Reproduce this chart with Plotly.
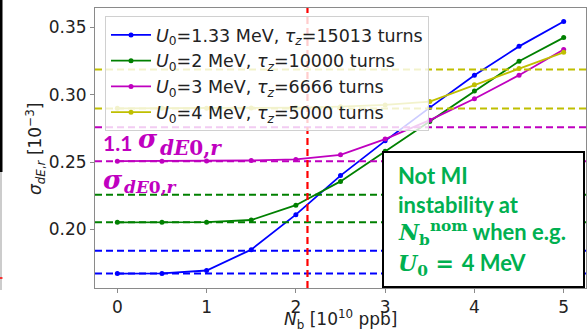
import plotly.graph_objects as go

# ---------------- data ----------------
nb = [0, 0.5, 1, 1.5, 2, 2.5, 3, 3.5, 4, 4.5, 5]
sig_u133 = [0.1672, 0.1673, 0.1695, 0.1850, 0.2110, 0.2400, 0.2658, 0.2905, 0.3145, 0.3360, 0.3545]
sig_u2 = [0.2053, 0.2053, 0.2054, 0.2070, 0.2180, 0.2357, 0.2580, 0.2802, 0.3029, 0.3249, 0.3425]
sig_u3 = [0.2507, 0.2507, 0.2508, 0.2512, 0.2520, 0.2554, 0.2671, 0.2812, 0.2971, 0.3146, 0.3337]
sig_u4 = [0.2900, 0.2900, 0.2900, 0.2902, 0.2905, 0.2912, 0.2925, 0.2950, 0.3074, 0.3195, 0.3316]
series_names = [
    "<i>U</i><sub>0</sub>=1.33 MeV, <i>τ<sub>z</sub></i>=15013 turns",
    "<i>U</i><sub>0</sub>=2 MeV, <i>τ<sub>z</sub></i>=10000 turns",
    "<i>U</i><sub>0</sub>=3 MeV, <i>τ<sub>z</sub></i>=6666 turns",
    "<i>U</i><sub>0</sub>=4 MeV, <i>τ<sub>z</sub></i>=5000 turns",
]
series_colors = ["#0000FF", "#008000", "#BF00BF", "#BFBF00"]
# zero-intensity spread and 1.1x threshold per U0
sig0 = [0.1673, 0.2053, 0.2507, 0.2898]
sig0_x11 = [0.1841, 0.2258, 0.2760, 0.3188]
nb_nominal = 2.13
x_ticks = [0, 1, 2, 3, 4, 5]
y_ticks = [0.20, 0.25, 0.30, 0.35]

# ---------------- layout constants ----------------
W, H = 588, 331
ML, MR, MT, MB = 95, 2, 8, 43
PW, PH = W - ML - MR, H - MT - MB


def px2x(p):
    return (p - ML) / PW


def px2y(p):
    return (H - MB - p) / PH


fig = go.Figure()
for ys, name, col in zip([sig_u133, sig_u2, sig_u3, sig_u4], series_names, series_colors):
    fig.add_trace(go.Scatter(
        x=nb, y=ys, mode="lines+markers", name=name,
        line=dict(color=col, width=1.8),
        marker=dict(color=col, size=5),
    ))

shapes = []
for col, a, b in zip(series_colors, sig0, sig0_x11):
    for v in (a, b):
        shapes.append(dict(type="line", xref="x domain", yref="y", x0=0, x1=1, y0=v, y1=v,
                           line=dict(color=col, width=2, dash="7px,4px"), layer="above"))
# nominal intensity
shapes.append(dict(type="line", xref="x", yref="y domain", x0=nb_nominal, x1=nb_nominal, y0=0, y1=1,
                   line=dict(color="#FF0000", width=2.2, dash="7px,4px"), layer="above"))
# text box
shapes.append(dict(type="rect", xref="paper", yref="paper",
                   x0=px2x(383), x1=px2x(584), y0=px2y(287), y1=px2y(152),
                   fillcolor="white", line=dict(color="black", width=2), layer="above"))
# cropped-slide artefacts on the left edge
shapes.append(dict(type="rect", xref="paper", yref="paper",
                   x0=px2x(0), x1=px2x(2.5), y0=px2y(172), y1=px2y(0),
                   fillcolor="black", line=dict(width=0), layer="above"))
shapes.append(dict(type="line", xref="paper", yref="paper",
                   x0=px2x(1), x1=px2x(1), y0=px2y(290), y1=px2y(172),
                   line=dict(color="#999999", width=1), layer="above"))
shapes.append(dict(type="line", xref="paper", yref="paper",
                   x0=px2x(0), x1=px2x(2.5), y0=px2y(278), y1=px2y(278),
                   line=dict(color="#FF0000", width=1.5), layer="above"))

MAG = "#C000C0"
GRN = "#00B050"
MATHF = "DejaVu Serif"


def ann(text, px, py, size, color, family, xanchor="left", angle=0):
    return dict(text=text, xref="paper", yref="paper", x=px2x(px), y=px2y(py),
                xanchor=xanchor, yanchor="middle", textangle=angle, showarrow=False,
                font=dict(family=family, size=size, color=color))


MATH_SPAN = "<span style=\"font-family:'DejaVu Serif'\">{}</span>"
annotations = [
    # axis titles
    ann("<i>σ</i><sub><i>dE</i>,<i>r</i></sub> [10<sup>−3</sup>]", 35, 149, 17, "#222222",
        "DejaVu Sans", xanchor="center", angle=-90),
    ann("<i>N</i><sub>b</sub> [10<sup>10</sup> ppb]", 341, 319, 17, "#222222", "DejaVu Sans",
        xanchor="center"),
    # magenta labels
    ann("<b>1.1</b>", 101, 142, 21, MAG, "Lato"),
    ann("<b><i>σ</i></b>", 136, 139, 26, MAG, MATHF),
    ann("<b><i>dE</i>0,<i>r</i></b>", 158, 148, 20, MAG, MATHF),
    ann("<b><i>σ</i></b>", 101, 179.5, 26, MAG, MATHF),
    ann("<b><i>dE</i>0,<i>r</i></b>", 122, 187, 17, MAG, MATHF),
    # green text in box
    ann("<b>Not MI</b>", 396, 175, 22, GRN, "Lato"),
    ann("<b>instability at</b>", 396, 204, 22, GRN, "Lato"),
    ann(MATH_SPAN.format("<b><i>N</i><sub>b</sub><sup>nom</sup></b>") + "<b> when e.g.</b>",
        396, 233, 22, GRN, "Lato"),
    ann(MATH_SPAN.format("<b><i>U</i><sub>0</sub> = </b>") + "<b>4 MeV</b>",
        396, 264, 22, GRN, "Lato"),
]

axis_common = dict(showline=True, linecolor="#8a8a8a", linewidth=1, mirror=True,
                   ticks="outside", ticklen=4, tickcolor="#8a8a8a", showgrid=False, zeroline=False,
                   tickfont=dict(family="DejaVu Sans", size=17, color="#222222"))

fig.update_layout(
    width=W, height=H,
    margin=dict(l=ML, r=MR, t=MT, b=MB, autoexpand=False),
    paper_bgcolor="white", plot_bgcolor="white",
    xaxis=dict(range=[-0.25, 5.25], tickvals=x_ticks, ticktext=[str(t) for t in x_ticks], **axis_common),
    yaxis=dict(range=[0.1565, 0.3645], tickvals=y_ticks, ticktext=[f"{t:.2f}" for t in y_ticks], **axis_common),
    legend=dict(x=px2x(105), y=px2y(16), xanchor="left", yanchor="top",
                bgcolor="rgba(255,255,255,0.8)", bordercolor="#d0d0d0", borderwidth=1,
                font=dict(family="DejaVu Sans", size=17.5, color="#222222"),
                itemwidth=40, tracegroupgap=0),
    shapes=shapes, annotations=annotations, showlegend=True,
)

fig.write_html("out.html", config={"displayModeBar": False},
               post_script="document.body.style.margin='0';document.body.style.overflow='hidden';")
